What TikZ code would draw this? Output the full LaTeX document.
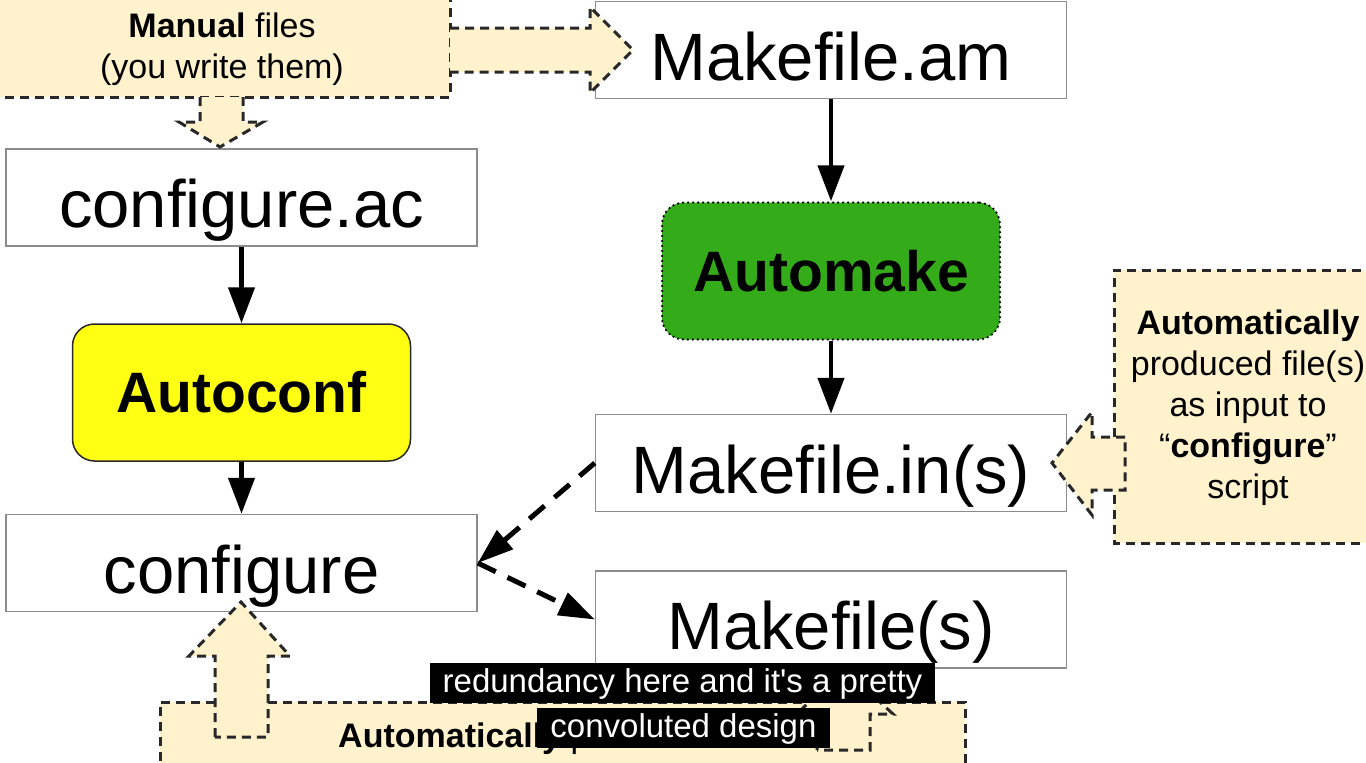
\documentclass[tikz,border=0pt]{standalone}
\usepackage{fontspec}
\setmainfont{Liberation Sans}
\usetikzlibrary{arrows.meta}
\definecolor{cream}{RGB}{255,242,204}
\definecolor{boxgray}{RGB}{140,140,140}
\definecolor{dashgray}{RGB}{40,40,40}
\definecolor{acyellow}{RGB}{255,255,20}
\definecolor{amgreen}{RGB}{52,172,26}
\tikzset{
  filebox/.style={draw=boxgray, line width=1.5pt, fill=white, minimum width=471pt, minimum height=97pt, inner sep=0pt, font=\fontsize{67}{80}\selectfont, text height=60pt, text depth=0pt},
  toolbox/.style={rounded corners=22pt, line width=1.5pt, minimum width=338pt, minimum height=137pt, inner sep=0pt, font=\fontsize{57}{68}\selectfont\bfseries, text height=40pt, text depth=0pt},
  flow/.style={line width=4.5pt, -{Triangle[length=36pt,width=26pt]}},
  dflow/.style={line width=5pt, dash pattern=on 20pt off 13pt, -{Triangle[length=36pt,width=24pt]}},
  callout/.style={draw=dashgray, line width=3pt, dash pattern=on 9pt off 6pt},
  calltext/.style={inner sep=0pt, anchor=base, font=\fontsize{34}{41}\selectfont},
  subtitle/.style={fill=black, text=white, inner sep=0pt, font=\fontsize{33}{40}\selectfont, text height=25pt, text depth=7pt}
}
\begin{document}
\begin{tikzpicture}[x=1pt,y=-1pt]
\useasboundingbox (0,0) rectangle (1366,763);
% boxes
\node[filebox] (mam) at (831,50) {Makefile.am};
\node[filebox] (cac) at (241.5,197.5) {configure.ac};
\node[toolbox, draw=dashgray, fill=acyellow] (acf) at (241.5,392.5) {Autoconf};
\node[toolbox, draw=black, fill=amgreen, line width=2.5pt, dash pattern=on 0pt off 5pt, line cap=round] (amk) at (831,271) {Automake};
\node[filebox] (cfg) at (241.5,563) {configure};
\node[filebox] (min) at (831,463) {Makefile.in(s)};
\node[filebox] (mfs) at (831,619.5) {Makefile(s)};
% connectors
\draw[flow] (cac.south) -- (acf.north);
\draw[flow] (acf.south) -- (cfg.north);
\draw[flow] (mam.south) -- (amk.north);
\draw[flow] (amk.south) -- (min.north);
\draw[dflow] (min.west) -- (cfg.east);
\draw[dflow] (cfg.east) -- (mfs.west);
% manual files callout
\fill[cream] (-10,-10) rectangle (450,97);
\draw[callout] (-10,97) -- (450,97) -- (450,-10);
\filldraw[callout, fill=cream] (450,28) -- (590,28) -- (590,7) -- (633,50) -- (590,93) -- (590,72) -- (450,72);
\filldraw[callout, fill=cream] (200,97) -- (200,122) -- (179,122) -- (220,147) -- (263,122) -- (243,122) -- (243,97);
\node[calltext] (mf1) at (222,37) {\textbf{Manual} files};
\node[calltext] (mf2) at (222,78) {(you write them)};
% right callout
\fill[cream] (1114,270) rectangle (1390,543);
\fill[cream] (1125,437) -- (1092,437) -- (1092,412) -- (1052,463) -- (1092,515) -- (1092,490) -- (1125,490) -- cycle;
\draw[callout] (1114,437) -- (1114,270) -- (1390,270);
\draw[callout] (1390,543) -- (1114,543) -- (1114,490);
\draw[callout] (1125,437) -- (1092,437) -- (1092,412) -- (1052,463) -- (1092,515) -- (1092,490) -- (1125,490) -- cycle;
\node[calltext] (rc1) at (1248,334) {\textbf{Automatically}};
\node[calltext] (rc2) at (1248,375) {produced file(s)};
\node[calltext] (rc3) at (1248,416) {as input to};
\node[calltext] (rc4) at (1248,457) {“\textbf{configure}”};
\node[calltext] (rc5) at (1248,498) {script};
% bottom callout
\fill[cream] (160,702) rectangle (965,790);
\draw[callout] (215,702) -- (160,702) -- (160,790);
\draw[callout] (268,702) -- (804,702);
\draw[callout] (882,702) -- (965,702) -- (965,790);
\filldraw[callout, fill=cream] (215,737) -- (215,656) -- (189,656) -- (241,602) -- (290,656) -- (268,656) -- (268,737) -- cycle;
\filldraw[callout, fill=cream] (817,750) -- (817,714) -- (797,714) -- (843,668) -- (893,714) -- (870,714) -- (870,750) -- cycle;
\node[calltext, anchor=base west] (bc) at (338,747) {\textbf{Automatically} produced files};
% subtitles
\node[subtitle, minimum width=505pt, minimum height=40pt] (sub1) at (682.5,683) {redundancy here and it\textquotesingle s a pretty};
\node[subtitle, minimum width=293pt, minimum height=40pt] (sub2) at (683.5,728) {convoluted design};
\end{tikzpicture}
\end{document}
